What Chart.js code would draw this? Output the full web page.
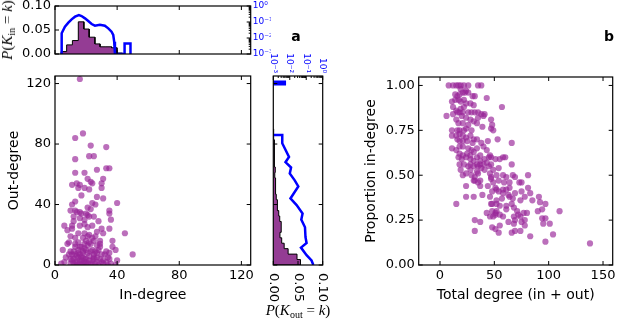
<!DOCTYPE html>
<html>
<head>
<meta charset="utf-8">
<title>In-degree / out-degree</title>
<script src="https://cdn.jsdelivr.net/npm/chart.js@4"></script>
<style>
  body { margin: 0; background: #fff; }
  #wrap { position: relative; width: 617px; height: 320px; overflow: hidden; font-family: "DejaVu Sans", sans-serif; }
  #wrap canvas { position: absolute; left: 0; top: 0; }
  .math { position: absolute; font-family: "Liberation Serif", serif; font-size: 15px; white-space: nowrap; transform: translate(-50%, -50%); }
  .math sub { font-size: 10px; vertical-align: -3px; }
  .panel { position: absolute; font-weight: bold; font-size: 14px; transform: translate(-50%, -50%); }
</style>
</head>
<body>
<div id="wrap">
  <canvas id="inHist" width="617" height="320"></canvas>
  <canvas id="degScatter" width="617" height="320"></canvas>
  <canvas id="outHist" width="617" height="320"></canvas>
  <canvas id="propScatter" width="617" height="320"></canvas>
  <div class="math" style="left:8px;top:30px;transform:translate(-50%,-50%) rotate(-90deg)"><i>P</i>(<i>K</i><sub>in</sub> = <i>k</i>)</div>
  <div class="math" style="left:298px;top:311px"><i>P</i>(<i>K</i><sub>out</sub> = <i>k</i>)</div>
  <div class="panel" style="left:296px;top:36px">a</div>
  <div class="panel" style="left:609px;top:36px">b</div>
</div>

<script>
// ---- panel a : in/out degree per node ----
const inDeg = [16,18,13,23,33,13,22,25,27,33,35,13,19,31,21,23,24,30,14,11,16,19,15,22,30,17,27,31,11,13,
  24,26,40,21,23,10,13,14,16,17,20,21,22,35,35,12,16,19,25,28,36,12,6,11,16,19,21,24,30,35,
  8,11,15,19,22,27,31,45,10,13,18,21,25,37,29,9,13,15,19,22,37,39,50,5,10,15,18,20,24,28,
  33,35,7,11,12,14,16,17,19,20,22,24,25,27,29,31,34,36,40,6,4,10,12,13,16,18,21,23,26,28,
  31,34,39,10,11,15,19,21,16,13,25,27,30,32,35,17,14,20,22,25,27,18,29,27,16,13,8,26,23,19,
  29,14,17,20,24,12,18,23,26,30,17,21,15,9,33,24,20];
const outDeg = [123,87,84,79,78,70,72,72,63,64,64,61,61,57,57,55,54,54,54,53,53,51,51,50,51,46,45,44,40,42,
  41,40,41,38,37,36,36,35,35,34,34,33,32,36,34,32,31,30,32,29,30,29,26,26,26,27,25,26,24,24,
  23,24,21,21,20,22,21,21,19,18,18,19,16,16,16,15,14,15,14,15,12,10,7,10,9,10,9,10,10,10,
  9,8,5,7,4,6,3,5,2,4,6,3,5,2,4,3,5,1,3,2,1,1,1,2,1,1,1,1,1,0,
  1,0,0,4,3,5,4,8,7,7,7,5,7,7,4,3,2,2,3,4,8,8,14,13,12,12,14,19,14,11,
  12,0,0,0,0,9,5,9,9,2,12,13,8,7,2,18,16];

// in-degree histogram (top) and its log-scale profile
const inBinEdges = [3.9, 7.5, 11.2, 15.0, 18.6, 22.0, 25.7, 29.0, 32.8, 36.4, 39.9, 43.5];
const inBinProb  = [0.005, 0.019, 0.028, 0.067, 0.052, 0.035, 0.021, 0.015, 0.015, 0.013, 0.002];
const inLogK = [3.9, 4.3, 6.4, 8.6, 10.7, 12.9, 15.4, 17.1, 19.3, 21.4, 23.6, 25.7, 28.9, 32.1, 34.3, 36.4, 37.5, 38.1, 38.6, 44.8, 44.8, 48.6, 48.6];
const inLogP = [0.001, 0.0196, 0.051, 0.091, 0.147, 0.215, 0.274, 0.237, 0.169, 0.115, 0.075, 0.059, 0.068, 0.059, 0.040, 0.025, 0.0154, 0.0059, 0.001, 0.001, 0.0046, 0.0046, 0.001];

// out-degree histogram (right) and its log-scale profile
const outBinWidth = 3.6;
const outBinProb = [0.055, 0.048, 0.030, 0.022, 0.017, 0.0135, 0.016, 0.016, 0.013, 0.011, 0.008, 0.0085, 0.006,
  0.005, 0.004, 0.005, 0.003, 0.004, 0.003, 0.002, 0.003, 0.002, 0.002, 0.001, 0.001];
const outLogK = [86, 86, 80.5, 71.5, 68, 64.5, 60.5, 56, 52, 44, 39.6, 34, 30, 25, 18.5, 14.5, 11.5, 6.5, 3, 0];
const outLogP = [0.001, 0.0035, 0.0035, 0.009, 0.0055, 0.012, 0.010, 0.02, 0.033, 0.011, 0.026, 0.06, 0.05, 0.084,
  0.09, 0.105, 0.048, 0.105, 0.21, 0.27];
const outTopK = [119.5, 119.5, 121.2, 121.2];
const outTopP = [0.001, 0.005, 0.005, 0.001];

// ---- panel b ----
const totalDeg = [8,12,15,17,19,22,26,35,38,19,24,26,14,16,18,21,23,30,32,43,11,14,17,19,22,24,28,31,12,15,
  19,22,57,16,18,21,26,29,32,35,38,41,6,12,20,24,28,31,35,40,47,15,17,21,26,34,39,48,11,16,
  18,22,24,29,47,49,11,15,18,21,24,28,31,16,18,21,25,30,34,38,44,53,66,18,21,26,29,34,40,11,
  15,18,21,25,28,31,34,37,43,46,17,20,24,28,31,37,41,45,47,51,55,58,60,18,22,26,28,31,34,35,
  37,40,43,45,47,19,28,34,38,41,49,54,66,21,24,29,32,35,46,47,52,58,67,69,81,31,37,47,54,61,
  32,35,49,59,64,73,75,24,37,44,51,52,58,61,64,48,54,58,63,69,75,83,81,78,24,31,39,46,52,57,
  64,67,74,85,91,92,97,15,47,48,52,55,61,66,68,43,48,51,52,55,61,71,72,77,80,90,94,46,49,51,
  58,68,69,74,78,94,97,101,110,32,37,48,51,55,63,68,75,78,95,32,54,66,69,74,83,104,97,138];
const propIn = [1.00,1.00,1.00,1.00,1.00,1.00,1.00,1.00,1.00,0.98,0.97,0.96,0.95,0.94,0.95,0.96,0.96,0.94,0.94,0.93,
  0.91,0.92,0.92,0.91,0.92,0.90,0.90,0.89,0.88,0.86,0.87,0.88,0.88,0.85,0.85,0.85,0.85,0.85,0.85,0.85,
  0.84,0.84,0.83,0.84,0.83,0.82,0.81,0.80,0.82,0.83,0.81,0.81,0.79,0.79,0.78,0.79,0.77,0.78,0.75,0.75,
  0.75,0.75,0.76,0.75,0.76,0.75,0.72,0.72,0.73,0.72,0.71,0.72,0.70,0.70,0.69,0.69,0.69,0.68,0.70,0.68,
  0.69,0.70,0.68,0.66,0.66,0.65,0.64,0.65,0.66,0.65,0.64,0.62,0.61,0.62,0.61,0.63,0.60,0.61,0.64,0.61,
  0.60,0.59,0.60,0.59,0.58,0.58,0.59,0.60,0.60,0.59,0.59,0.60,0.60,0.56,0.56,0.55,0.56,0.55,0.56,0.55,
  0.56,0.56,0.57,0.55,0.56,0.53,0.53,0.52,0.54,0.53,0.53,0.54,0.56,0.50,0.51,0.50,0.49,0.51,0.51,0.49,
  0.50,0.50,0.50,0.49,0.50,0.47,0.47,0.48,0.47,0.49,0.47,0.46,0.46,0.46,0.46,0.46,0.46,0.44,0.44,0.44,
  0.43,0.42,0.42,0.42,0.43,0.41,0.41,0.40,0.39,0.40,0.41,0.40,0.43,0.38,0.38,0.38,0.39,0.38,0.36,0.37,
  0.38,0.37,0.36,0.36,0.38,0.35,0.34,0.34,0.34,0.34,0.34,0.33,0.33,0.34,0.32,0.29,0.30,0.29,0.30,0.28,
  0.31,0.30,0.28,0.29,0.29,0.30,0.31,0.27,0.27,0.28,0.27,0.27,0.25,0.27,0.25,0.26,0.26,0.23,0.30,0.25,
  0.24,0.21,0.20,0.22,0.24,0.23,0.24,0.22,0.23,0.19,0.18,0.18,0.19,0.19,0.16,0.17,0.13,0.12];

// ---- ticks ----
const degTicks = [0, 40, 80, 120];
const probTicks = [0, 0.05, 0.10];
const logTicks = [0.001, 0.01, 0.1, 1];
const logTickLabels = ['10\u207B\u00B3', '10\u207B\u00B2', '10\u207B\u00B9', '10\u2070'];
const totalTicks = [0, 50, 100, 150];
const propTicks = [0, 0.25, 0.5, 0.75, 1.0];

const W = 617, H = 320;
const DOT = 'rgba(152, 36, 152, 0.66)';
const HIST_FILL = '#943c94';
const BLUE = '#0000ff';

Chart.defaults.font.family = '"DejaVu Sans", sans-serif';
Chart.defaults.color = '#000';

const logMinor = [];
logTicks.slice(0, -1).forEach(d => { for (let m = 2; m < 10; m++) logMinor.push(m * d); });

function fixWidth(w) {
  return s => { s.width = w; s.paddingTop = s.paddingBottom = s.paddingLeft = s.paddingRight = 0; };
}
function fixHeight(h) {
  return s => { s.height = h; s.paddingTop = s.paddingBottom = s.paddingLeft = s.paddingRight = 0; };
}
function setTicks(vals) {
  return s => { s.ticks = vals.map(v => ({ value: v })); };
}
function toPoints(xs, ys) {
  return xs.map((x, i) => ({ x: x, y: ys[i] }));
}
// outline of a histogram standing on the x axis
function barsUp(edges, probs) {
  const pts = [{ x: edges[0], y: 0 }];
  probs.forEach((p, i) => { pts.push({ x: edges[i], y: p }, { x: edges[i + 1], y: p }); });
  pts.push({ x: edges[probs.length], y: 0 });
  return pts;
}
// outline of a histogram lying on the y axis
function barsRight(width, probs) {
  const pts = [{ x: 0, y: 0 }];
  probs.forEach((p, i) => { pts.push({ x: p, y: i * width }, { x: p, y: (i + 1) * width }); });
  pts.push({ x: 0, y: probs.length * width });
  return pts;
}

// box, inward ticks and rotated labels, in the matplotlib classic look
function deco(cfg) {
  return {
    id: 'deco',
    afterDraw(chart) {
      const { ctx, chartArea: a } = chart;
      ctx.save();
      ctx.strokeStyle = '#000';
      ctx.lineWidth = 1;
      (cfg.marks || []).forEach(m => {
        const s = chart.scales[m.axis];
        m.values.forEach(v => {
          const p = s.getPixelForValue(v);
          m.sides.forEach(side => {
            ctx.beginPath();
            if (side === 'bottom') { ctx.moveTo(p, a.bottom); ctx.lineTo(p, a.bottom - m.len); }
            if (side === 'top') { ctx.moveTo(p, a.top); ctx.lineTo(p, a.top + m.len); }
            if (side === 'left') { ctx.moveTo(a.left, p); ctx.lineTo(a.left + m.len, p); }
            if (side === 'right') { ctx.moveTo(a.right, p); ctx.lineTo(a.right - m.len, p); }
            ctx.stroke();
          });
        });
      });
      ctx.lineWidth = 1.2;
      ctx.strokeRect(a.left, a.top, a.right - a.left, a.bottom - a.top);
      (cfg.rotated || []).forEach(r => {
        const s = chart.scales[r.axis];
        ctx.font = r.font;
        ctx.fillStyle = r.color;
        ctx.textBaseline = 'middle';
        r.values.forEach((v, i) => {
          ctx.save();
          ctx.translate(s.getPixelForValue(v), r.side === 'bottom' ? a.bottom + r.gap : a.top - r.gap);
          ctx.rotate(Math.PI / 2);
          ctx.textAlign = r.side === 'bottom' ? 'left' : 'right';
          ctx.fillText(r.labels[i], 0, 0);
          ctx.restore();
        });
      });
      ctx.restore();
    }
  };
}

const common = {
  responsive: false,
  animation: false,
  events: [],
  plugins: { legend: { display: false }, tooltip: { enabled: false } }
};
// no grid, no outer tick marks: the deco plugin draws the box and inner ticks
const plainAxis = { grid: { display: false, drawTicks: false }, border: { display: false } };

// top: in-degree distribution
new Chart(document.getElementById('inHist'), {
  type: 'scatter',
  data: {
    datasets: [
      { data: toPoints(inLogK, inLogP), yAxisID: 'yLog', showLine: true, borderColor: BLUE, borderWidth: 2.5,
        pointRadius: 0, fill: false, clip: 0 },
      { data: barsUp(inBinEdges, inBinProb), yAxisID: 'y', showLine: true, borderColor: '#000', borderWidth: 1,
        backgroundColor: HIST_FILL, fill: 'shape', pointRadius: 0 }
    ]
  },
  options: Object.assign({}, common, {
    layout: { autoPadding: false, padding: { left: 0, top: 6, right: W - 250.7 - 20, bottom: H - 54 } },
    scales: {
      x: { type: 'linear', display: false, min: 0, max: 126 },
      y: Object.assign({}, plainAxis, {
        type: 'linear', position: 'left', min: 0, max: 0.1,
        afterFit: fixWidth(55), afterBuildTicks: setTicks(probTicks),
        ticks: { font: { size: 13 }, padding: 4, callback: v => v.toFixed(2) }
      }),
      yLog: Object.assign({}, plainAxis, {
        type: 'logarithmic', position: 'right', min: 0.001, max: 1,
        afterFit: fixWidth(20), afterBuildTicks: setTicks(logTicks),
        ticks: { font: { size: 9 }, color: BLUE, padding: 2, callback: (v, i) => logTickLabels[i] }
      })
    }
  }),
  plugins: [deco({
    marks: [
      { axis: 'x', values: degTicks, sides: ['top', 'bottom'], len: 4 },
      { axis: 'y', values: probTicks, sides: ['left'], len: 4 },
      { axis: 'yLog', values: logTicks, sides: ['right'], len: 4 },
      { axis: 'yLog', values: logMinor, sides: ['right'], len: 2 }
    ]
  })]
});

// a: out-degree vs in-degree
new Chart(document.getElementById('degScatter'), {
  type: 'scatter',
  data: {
    datasets: [{ data: toPoints(inDeg, outDeg), pointRadius: 3.1, borderWidth: 0, backgroundColor: DOT, clip: 0 }]
  },
  options: Object.assign({}, common, {
    layout: { autoPadding: false, padding: { left: 0, top: 76, right: W - 250.7, bottom: 0 } },
    scales: {
      x: Object.assign({}, plainAxis, {
        type: 'linear', min: 0, max: 126,
        afterFit: fixHeight(55), afterBuildTicks: setTicks(degTicks),
        ticks: { font: { size: 13 }, padding: 3, maxRotation: 0 },
        title: { display: true, text: 'In-degree', font: { size: 14 }, padding: { top: 0, bottom: 16.6 } }
      }),
      y: Object.assign({}, plainAxis, {
        type: 'linear', min: 0, max: 125,
        afterFit: fixWidth(55), afterBuildTicks: setTicks(degTicks),
        ticks: { font: { size: 13 }, padding: 4 },
        title: { display: true, text: 'Out-degree', font: { size: 14 }, padding: { top: 5.6, bottom: 0 } }
      })
    }
  }),
  plugins: [deco({
    marks: [
      { axis: 'x', values: degTicks, sides: ['top', 'bottom'], len: 4 },
      { axis: 'y', values: degTicks, sides: ['left', 'right'], len: 4 }
    ]
  })]
});

// right: out-degree distribution
new Chart(document.getElementById('outHist'), {
  type: 'scatter',
  data: {
    datasets: [
      { data: toPoints(outLogP, outLogK), xAxisID: 'xLog', showLine: true, borderColor: BLUE, borderWidth: 2.5,
        pointRadius: 0, fill: false, clip: 0 },
      { data: toPoints(outTopP, outTopK), xAxisID: 'xLog', showLine: true, borderColor: BLUE, borderWidth: 2.5,
        pointRadius: 0, fill: false, clip: 0 },
      { data: barsRight(outBinWidth, outBinProb), xAxisID: 'x', showLine: true, borderColor: '#000', borderWidth: 1,
        backgroundColor: HIST_FILL, fill: 'shape', pointRadius: 0 }
    ]
  },
  options: Object.assign({}, common, {
    layout: { autoPadding: false, padding: { left: 273.3, top: 76, right: W - 322.7, bottom: H - 265 } },
    scales: {
      x: { type: 'linear', display: false, min: 0, max: 0.1 },
      xLog: { type: 'logarithmic', display: false, position: 'top', min: 0.001, max: 1 },
      y: { type: 'linear', display: false, min: 0, max: 125 }
    }
  }),
  plugins: [deco({
    marks: [
      { axis: 'y', values: degTicks, sides: ['left', 'right'], len: 4 },
      { axis: 'x', values: probTicks, sides: ['bottom'], len: 4 },
      { axis: 'xLog', values: logTicks, sides: ['top'], len: 4 },
      { axis: 'xLog', values: logMinor, sides: ['top'], len: 2 }
    ],
    rotated: [
      { axis: 'x', side: 'bottom', gap: 8, values: probTicks, labels: probTicks.map(v => v.toFixed(2)),
        font: '13px "DejaVu Sans"', color: '#000' },
      { axis: 'xLog', side: 'top', gap: 3, values: logTicks, labels: logTickLabels,
        font: '9px "DejaVu Sans"', color: BLUE }
    ]
  })]
});

// b: proportion in-degree vs total degree
new Chart(document.getElementById('propScatter'), {
  type: 'scatter',
  data: {
    datasets: [{ data: toPoints(totalDeg, propIn), pointRadius: 3.1, borderWidth: 0, backgroundColor: DOT, clip: 0 }]
  },
  options: Object.assign({}, common, {
    layout: { autoPadding: false, padding: { left: 360, top: 77, right: W - 612.7, bottom: 0 } },
    scales: {
      x: Object.assign({}, plainAxis, {
        type: 'linear', min: -19.6, max: 158.9,
        afterFit: fixHeight(55), afterBuildTicks: setTicks(totalTicks),
        ticks: { font: { size: 13 }, padding: 3, maxRotation: 0 },
        title: { display: true, text: 'Total degree (in + out)', font: { size: 14 }, padding: { top: 0, bottom: 16.6 } }
      }),
      y: Object.assign({}, plainAxis, {
        type: 'linear', min: 0, max: 1.047,
        afterFit: fixWidth(58.7), afterBuildTicks: setTicks(propTicks),
        ticks: { font: { size: 13 }, padding: 4, callback: v => v.toFixed(2) },
        title: { display: true, text: 'Proportion in-degree', font: { size: 14 }, padding: { top: 2.6, bottom: 0 } }
      })
    }
  }),
  plugins: [deco({
    marks: [
      { axis: 'x', values: totalTicks, sides: ['top', 'bottom'], len: 4 },
      { axis: 'y', values: propTicks, sides: ['left', 'right'], len: 4 }
    ]
  })]
});
</script>
</body>
</html>
